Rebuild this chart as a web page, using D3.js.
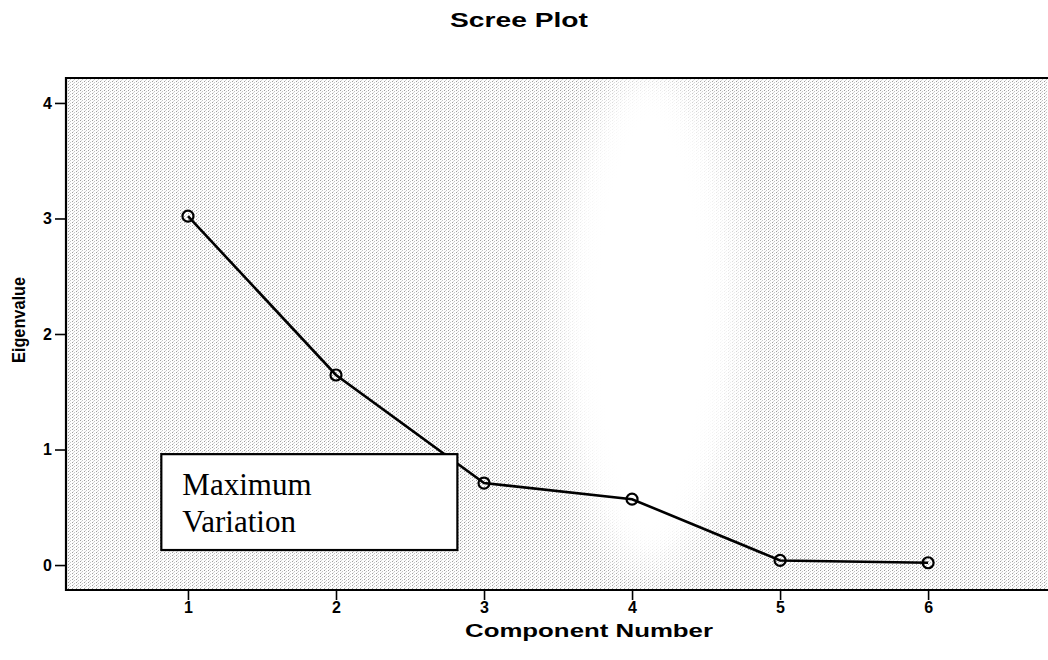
<!DOCTYPE html>
<html>
<head>
<meta charset="utf-8">
<script src="https://cdn.jsdelivr.net/npm/d3@7"></script>
<style>
  html, body { margin: 0; padding: 0; background: #fff; }
  #scree-container { width: 1048px; height: 660px; overflow: hidden; }
</style>
</head>
<body>
<div id="scree-container"></div>
<script>
// component numbers and their eigenvalues
const components = [1, 2, 3, 4, 5, 6];
const eigenvalues = [3.02, 1.645, 0.71, 0.57, 0.04, 0.02];

// axis ticks
const xTicks = [1, 2, 3, 4, 5, 6];
const yTicks = [0, 1, 2, 3, 4];

// annotation text, one entry per line
const annotationLines = ["Maximum", "Variation"];

/**
 * Draw the scree plot
 */
const drawChart = () => {
    const width = 1048;
    const height = 660;

    // plot area (it runs off the right edge like the scan)
    const margin = { top: 78, right: 0, bottom: 70, left: 66 };
    const plotW = width - margin.left - margin.right;
    const plotH = height - margin.top - margin.bottom;

    const svg = d3.select('#scree-container')
        .append('svg')
        .attr('width', width)
        .attr('height', height);

    const x = d3.scaleLinear()
        .domain([0.176, 6.81])
        .range([margin.left, width - margin.right]);

    const y = d3.scaleLinear()
        .domain([-0.216, 4.216])
        .range([height - margin.bottom, margin.top]);

    const defs = svg.append('defs');

    // dithered grey texture of the scanned background
    const pattern = defs.append('pattern')
        .attr('id', 'dither')
        .attr('patternUnits', 'userSpaceOnUse')
        .attr('width', 4)
        .attr('height', 3);
    pattern.append('rect').attr('width', 4).attr('height', 3).attr('fill', '#fdfdfd');
    pattern.append('rect').attr('x', 0).attr('y', 0).attr('width', 1).attr('height', 1).attr('fill', '#9c9c9c');
    pattern.append('rect').attr('x', 2).attr('y', 1).attr('width', 1).attr('height', 1).attr('fill', '#c4c4c4');
    pattern.append('rect').attr('x', 1).attr('y', 2).attr('width', 1).attr('height', 1).attr('fill', '#d6d6d6');

    // blurred white hole in the middle of the texture
    defs.append('filter')
        .attr('id', 'soft')
        .attr('x', '-100%').attr('y', '-100%')
        .attr('width', '300%').attr('height', '300%')
        .append('feGaussianBlur')
        .attr('stdDeviation', 18);

    const mask = defs.append('mask')
        .attr('id', 'hole-mask')
        .attr('maskUnits', 'userSpaceOnUse')
        .attr('x', 0).attr('y', 0)
        .attr('width', width).attr('height', height);
    mask.append('rect')
        .attr('x', margin.left).attr('y', margin.top)
        .attr('width', plotW).attr('height', plotH)
        .attr('fill', '#fff');
    mask.append('ellipse')
        .attr('cx', 650).attr('cy', 320)
        .attr('rx', 92).attr('ry', 250)
        .attr('fill', '#000')
        .attr('filter', 'url(#soft)');

    svg.append('rect')
        .attr('x', margin.left).attr('y', margin.top)
        .attr('width', plotW).attr('height', plotH)
        .attr('fill', 'url(#dither)')
        .attr('mask', 'url(#hole-mask)');

    // frame: top border, left and bottom axis lines
    svg.append('path')
        .attr('d', `M${width},${margin.top}H${margin.left}V${height - margin.bottom}H${width}`)
        .attr('fill', 'none')
        .attr('stroke', '#000')
        .attr('stroke-width', 2.2);

    const tickStyle = g => g.selectAll('text')
        .style('font-family', 'Liberation Sans, Arial, sans-serif')
        .style('font-weight', 'bold')
        .style('font-size', '16px')
        .attr('fill', '#000');

    // y axis
    svg.append('g')
        .attr('transform', `translate(${margin.left},0)`)
        .call(d3.axisLeft(y).tickValues(yTicks).tickFormat(d3.format('d')).tickSize(11).tickPadding(3))
        .call(g => g.select('.domain').remove())
        .call(g => g.selectAll('line').attr('stroke-width', 1.6))
        .call(tickStyle);

    // x axis
    svg.append('g')
        .attr('transform', `translate(0,${height - margin.bottom})`)
        .call(d3.axisBottom(x).tickValues(xTicks).tickFormat(d3.format('d')).tickSize(10).tickPadding(2))
        .call(g => g.select('.domain').remove())
        .call(g => g.selectAll('line').attr('stroke-width', 1.6))
        .call(tickStyle);

    const points = components.map((c, i) => ({ c, v: eigenvalues[i] }));

    // the scree line
    svg.append('path')
        .datum(points)
        .attr('fill', 'none')
        .attr('stroke', '#000')
        .attr('stroke-width', 2.6)
        .attr('d', d3.line().x(d => x(d.c)).y(d => y(d.v)));

    // hollow markers
    svg.append('g')
        .selectAll('circle')
        .data(points)
        .join('circle')
        .attr('cx', d => x(d.c))
        .attr('cy', d => y(d.v))
        .attr('r', 5.5)
        .attr('fill', 'none')
        .attr('stroke', '#000')
        .attr('stroke-width', 2.2);

    // annotation box, placed in data units so it follows the scales
    const box = { x0: 0.82, x1: 2.82, y0: 0.13, y1: 0.96 };
    svg.append('rect')
        .attr('x', x(box.x0))
        .attr('y', y(box.y1))
        .attr('width', x(box.x1) - x(box.x0))
        .attr('height', y(box.y0) - y(box.y1))
        .attr('fill', '#fff')
        .attr('stroke', '#000')
        .attr('stroke-width', 2.2);

    svg.append('text')
        .attr('font-family', 'Liberation Serif, Times New Roman, serif')
        .attr('font-size', 31)
        .attr('fill', '#000')
        .selectAll('tspan')
        .data(annotationLines)
        .join('tspan')
        .attr('x', x(box.x0) + 21)
        .attr('y', (d, i) => y(box.y1) + 41 + i * 37)
        .text(d => d);

    // title
    svg.append('text')
        .attr('x', 519)
        .attr('y', 27)
        .attr('text-anchor', 'middle')
        .attr('font-family', 'Liberation Sans, Arial, sans-serif')
        .attr('font-weight', 'bold')
        .attr('font-size', 20)
        .attr('textLength', 138)
        .attr('lengthAdjust', 'spacingAndGlyphs')
        .text('Scree Plot');

    // x axis title
    svg.append('text')
        .attr('x', 589)
        .attr('y', 637)
        .attr('text-anchor', 'middle')
        .attr('font-family', 'Liberation Sans, Arial, sans-serif')
        .attr('font-weight', 'bold')
        .attr('font-size', 19)
        .attr('textLength', 248)
        .attr('lengthAdjust', 'spacingAndGlyphs')
        .text('Component Number');

    // y axis title
    svg.append('text')
        .attr('transform', 'translate(25,320) rotate(-90)')
        .attr('text-anchor', 'middle')
        .attr('font-family', 'Liberation Sans, Arial, sans-serif')
        .attr('font-weight', 'bold')
        .attr('font-size', 18)
        .attr('textLength', 86)
        .attr('lengthAdjust', 'spacingAndGlyphs')
        .text('Eigenvalue');
};

drawChart();
</script>
</body>
</html>
